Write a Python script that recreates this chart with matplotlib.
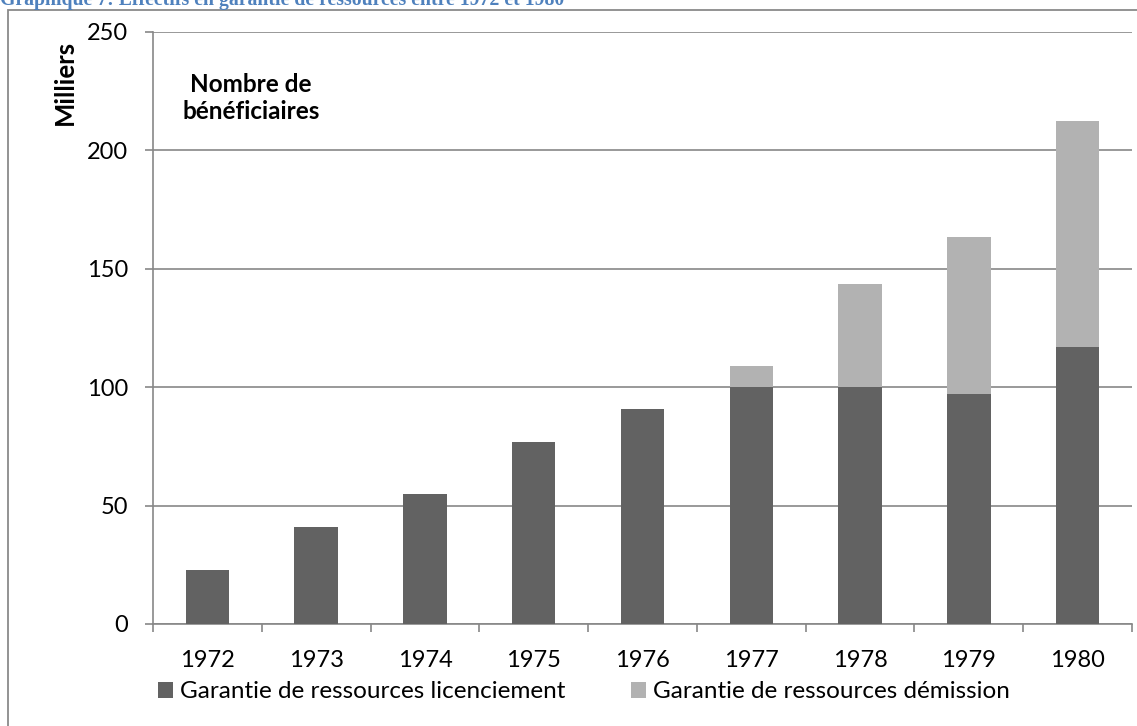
import matplotlib
matplotlib.use("Agg")
import matplotlib.pyplot as plt
from matplotlib.patches import Rectangle
import numpy as np

years = ["1972", "1973", "1974", "1975", "1976", "1977", "1978", "1979", "1980"]
licenciement = [23, 41, 55, 77, 91, 100, 100, 97, 117]
demission = [0, 0, 0, 0, 0, 9, 43.4, 66.4, 95.4]
series_labels = ["Garantie de ressources licenciement", "Garantie de ressources démission"]
yticks = [0, 50, 100, 150, 200, 250]
title = "Graphique 7: Effectifs en garantie de ressources entre 1972 et 1980"

W, H = 1137, 726
plt.rcParams['font.family'] = ['Lato', 'DejaVu Sans']
fig = plt.figure(figsize=(W / 100, H / 100), dpi=100)

def fx(px):
    return px / W

def fy(py):
    return 1 - py / H

# outer border of the chart area
fig.patches.append(Rectangle((fx(8), fy(760)), fx(1200), fy(10) - fy(760),
                             transform=fig.transFigure, fill=False,
                             edgecolor="#8a8a8a", linewidth=1.3))

# title, cut off at the top edge as in the source
fig.text(fx(0), fy(5), title, family="Liberation Serif", fontweight="bold",
         fontsize=14.2, color="#4f81bd", ha="left", va="baseline")

ax = fig.add_axes([fx(153), fy(624), fx(1132) - fx(153), fy(32) - fy(624)])
x = np.arange(len(years))
dark = "#626262"
light = "#b2b2b2"
gc = "#878787"
b1 = ax.bar(x, licenciement, width=0.4, color=dark, label=series_labels[0], zorder=3)
b2 = ax.bar(x, demission, width=0.4, bottom=licenciement, color=light,
            label=series_labels[1], zorder=3)

ax.set_xlim(-0.5, len(years) - 0.5)
ax.set_ylim(0, 250)
ax.set_yticks(yticks)
ax.set_yticklabels([str(v) for v in yticks])
ax.yaxis.grid(True, color=gc, linewidth=1.2, zorder=0)
ax.set_axisbelow(True)

ax.set_xticks(x)
ax.set_xticklabels(years)
ax.set_xticks(np.arange(-0.5, len(years)), minor=True)
ax.tick_params(axis="x", which="major", length=0, pad=19, labelsize=17)
ax.tick_params(axis="x", which="minor", length=6, width=1.2, color=gc)
ax.tick_params(axis="y", length=6, width=1.2, color=gc, pad=12, labelsize=17)

for s in ["top", "right"]:
    ax.spines[s].set_visible(False)
for s in ["left", "bottom"]:
    ax.spines[s].set_color(gc)
    ax.spines[s].set_linewidth(1.2)

fig.text(fx(65), fy(82), "Milliers", rotation=90, fontweight="bold",
         fontsize=18.5, ha="center", va="center")
fig.text(fx(251), fy(98), "Nombre de\nbénéficiaires", fontweight="bold",
         fontsize=17.5, ha="center", va="center", linespacing=1.25)

fig.legend(handles=[b1, b2], labels=series_labels, loc="center",
           bbox_to_anchor=(fx(584), fy(692)), ncol=2, frameon=False,
           fontsize=17.5, handlelength=0.62, handleheight=0.62,
           handletextpad=0.29, columnspacing=2.7, borderpad=0)

fig.savefig("out.png", dpi=100)
